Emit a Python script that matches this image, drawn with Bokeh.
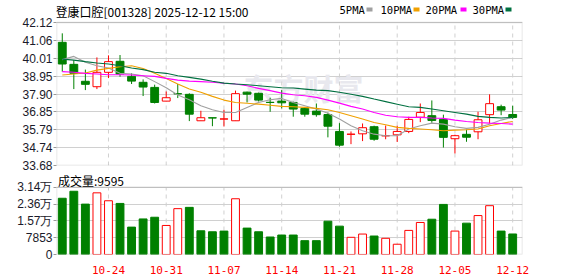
from bokeh.plotting import figure
from bokeh.layouts import column
from bokeh.models import ColumnDataSource, FixedTicker, Label, BoxAnnotation, Range1d, PrintfTickFormatter
from bokeh.embed import file_html
from bokeh.resources import INLINE

stock_title = "登康口腔[001328] 2025-12-12 15:00"

dates = ["10-20", "10-21", "10-22", "10-23", "10-24", "10-27", "10-28", "10-29", "10-30", "10-31",
         "11-03", "11-04", "11-05", "11-06", "11-07", "11-10", "11-11", "11-12", "11-13", "11-14",
         "11-17", "11-18", "11-19", "11-20", "11-21", "11-24", "11-25", "11-26", "11-27", "11-28",
         "12-01", "12-02", "12-03", "12-04", "12-05", "12-08", "12-09", "12-10", "12-11", "12-12"]

open_ = [40.95, 39.65, 38.65, 38.33, 39.18, 39.83, 38.94, 38.59, 38.29, 37.48,
         37.92, 37.88, 36.32, 36.50, 36.42, 36.32, 38.01, 37.94, 37.41, 37.48,
         37.40, 37.05, 36.89, 36.69, 35.69, 35.52, 35.55, 35.97, 35.43, 35.49,
         35.69, 36.53, 36.62, 36.40, 35.26, 35.52, 35.67, 36.68, 37.15, 36.69]
high = [41.48, 39.90, 39.34, 40.06, 40.18, 40.20, 39.12, 38.76, 38.45, 38.05,
        38.49, 37.94, 36.91, 36.50, 36.97, 38.10, 38.04, 37.98, 37.68, 38.13,
        37.45, 37.09, 37.34, 36.81, 36.18, 35.69, 36.16, 36.03, 36.04, 36.03,
        36.56, 37.34, 37.52, 36.68, 35.50, 35.79, 36.85, 37.88, 37.27, 37.21]
low = [39.22, 38.19, 38.13, 38.19, 38.84, 38.92, 38.49, 37.78, 37.34, 37.48,
       37.66, 36.30, 36.32, 36.00, 35.98, 36.32, 37.40, 37.46, 36.85, 37.05,
       36.56, 36.56, 36.56, 35.34, 34.79, 34.94, 35.12, 35.14, 35.23, 35.07,
       35.59, 36.24, 36.20, 34.74, 34.39, 35.08, 35.23, 36.16, 36.65, 36.42]
close = [39.67, 39.12, 38.47, 39.18, 39.81, 39.08, 38.66, 38.31, 37.40, 37.68,
         37.91, 36.71, 36.50, 36.48, 36.43, 37.92, 37.89, 37.54, 37.40, 37.38,
         37.01, 36.71, 36.68, 36.00, 34.88, 35.53, 35.91, 35.23, 35.44, 35.69,
         36.40, 36.81, 36.34, 35.34, 35.44, 35.35, 36.38, 37.33, 36.95, 36.52]

ma5 = [39.93, 40.12, 39.77, 39.57, 39.43, 39.12, 39.08, 38.98, 38.63, 38.27,
       37.84, 37.56, 37.21, 36.97, 36.81, 36.81, 37.11, 37.40, 37.56, 37.64,
       37.40, 37.21, 37.01, 36.77, 36.42, 36.03, 35.73, 35.53, 35.44, 35.44,
       35.83, 36.03, 36.18, 36.12, 35.97, 35.87, 35.93, 36.12, 36.36, 36.52]
ma10 = [39.02, 39.08, 39.14, 39.31, 39.41, 39.51, 39.57, 39.41, 39.12, 38.82,
        38.49, 38.19, 38.00, 37.76, 37.54, 37.40, 37.35, 37.30, 37.24, 37.17,
        37.15, 37.11, 37.05, 36.97, 36.81, 36.62, 36.42, 36.22, 36.09, 35.93,
        35.87, 35.83, 35.79, 35.73, 35.77, 35.79, 35.83, 36.03, 36.16, 36.28]
ma20 = [39.22, 39.18, 39.12, 39.08, 39.04, 39.04, 39.02, 38.98, 38.94, 38.82,
        38.72, 38.66, 38.63, 38.59, 38.53, 38.49, 38.39, 38.23, 38.10, 37.95,
        37.86, 37.80, 37.70, 37.54, 37.36, 37.17, 37.01, 36.81, 36.65, 36.56,
        36.52, 36.52, 36.48, 36.46, 36.36, 36.28, 36.22, 36.18, 36.16, 36.12]
ma30 = [39.96, 39.90, 39.81, 39.73, 39.67, 39.57, 39.43, 39.34, 39.18, 39.12,
        38.98, 38.88, 38.78, 38.65, 38.54, 38.49, 38.45, 38.39, 38.33, 38.27,
        38.25, 38.19, 38.13, 38.10, 38.00, 37.89, 37.76, 37.60, 37.45, 37.30,
        37.15, 37.11, 37.01, 36.91, 36.81, 36.71, 36.58, 36.52, 36.48, 36.52]

volume = [26300, 29570, 23560, 28830, 25130, 23880, 12800, 16630, 17420, 13580,
          21440, 22040, 11090, 10630, 10950, 26060, 12340, 10630, 8180, 9100,
          9100, 6470, 6470, 15570, 13260, 8040, 9560, 8640, 7580, 4800,
          11270, 14970, 16490, 23420, 10950, 14650, 18200, 22820, 10950, 9595]

price_ticks = [33.68, 34.74, 35.79, 36.85, 37.90, 38.95, 40.01, 41.06, 42.12]
vol_ticks = [0, 7853, 15706, 23559, 31412]
vol_tick_labels = ["0", "7853", "1.57万", "2.36万", "3.14万"]
date_ticks = ["10-24", "10-31", "11-07", "11-14", "11-21", "11-28", "12-05", "12-12"]
ma_names = ["5PMA", "10PMA", "20PMA", "30PMA"]

UP = "#ff0000"
DOWN = "#008000"
MA_COLORS = ["#a0a0a0", "#f0a000", "#ff00ff", "#007040"]
FRAME = "#999999"
GRID = "#d0d0d0"

n = len(dates)
xs = list(range(n))
ccolor = [UP if c >= o else DOWN for o, c in zip(open_, close)]
cfill = ["white" if c >= o else DOWN for o, c in zip(open_, close)]
vcolor = [ccolor[0]] + [UP if close[i] > close[i - 1] else DOWN for i in range(1, n)]
vfill = [cfill[0]] + ["white" if close[i] > close[i - 1] else DOWN for i in range(1, n)]
btop = [max(o, c) for o, c in zip(open_, close)]
bbot = [min(o, c) for o, c in zip(open_, close)]

src = ColumnDataSource(dict(x=xs, high=high, low=low, btop=btop, bbot=bbot,
                            ccolor=ccolor, cfill=cfill, vol=volume, vcolor=vcolor, vfill=vfill))

tick_pos = [dates.index(d) for d in date_ticks]
xr = Range1d(-0.5, n - 0.15)

# pixel layout of the page
P_FRAME_TOP, P_FRAME_BOT, P_CANVAS = 22, 165, 172      # price panel (header band above frame)
V_FRAME_TOP, V_FRAME_BOT, V_CANVAS = 187, 255, 104     # volume panel

p_lo, p_hi = price_ticks[0], price_ticks[-1]
p_top = p_hi + (p_hi - p_lo) * P_FRAME_TOP / (P_FRAME_BOT - P_FRAME_TOP)

def style_yaxis(fig):
    for ax in fig.yaxis:
        ax.axis_line_color = None
        ax.major_tick_line_color = FRAME
        ax.major_tick_out = 3
        ax.major_tick_in = 0
        ax.minor_tick_line_color = None
        ax.major_label_standoff = 1
        ax.major_label_text_font = "Liberation Sans"
        ax.major_label_text_font_size = "12px"
        ax.major_label_text_color = "#1a1a2a"

# ---------- price panel ----------
p = figure(width=578, height=P_CANVAS, x_range=xr, y_range=Range1d(p_lo, p_top),
           output_backend="svg", toolbar_location=None,
           min_border_left=56, min_border_right=56, min_border_top=0,
           min_border_bottom=P_CANVAS - P_FRAME_BOT,
           background_fill_color="white", border_fill_color="white",
           outline_line_color=None)
p.xaxis.visible = False
p.xgrid.grid_line_color = None
p.yaxis.ticker = FixedTicker(ticks=price_ticks)
p.yaxis.formatter = PrintfTickFormatter(format="%.2f")
p.ygrid.grid_line_color = GRID
style_yaxis(p)

wm = Label(x=187, y=79, x_units="screen", y_units="screen", text="东方财富",
           text_font="Noto Sans CJK SC", text_font_size="30px", text_font_style="bold",
           text_color="#e8e8ee", text_baseline="middle", level="underlay")
p.add_layout(wm)

k = len(tick_pos)
p.segment(x0=tick_pos, y0=[p_lo] * k, x1=tick_pos, y1=[p_hi] * k,
          line_color=GRID, line_dash="4 4", line_width=1)
p.segment(x0="x", y0="high", x1="x", y1="low", line_color="ccolor", line_width=1, source=src)
p.vbar(x="x", width=0.68, top="btop", bottom="bbot", fill_color="cfill", line_color="ccolor",
       line_width=1, source=src)
for series, col in zip([ma5, ma10, ma20, ma30], MA_COLORS):
    p.line(xs, series, line_color=col, line_width=1.1)

p.add_layout(BoxAnnotation(bottom=p_lo, top=p_hi, fill_color=None, fill_alpha=0,
                           line_color=FRAME, line_width=1.5))

hdr_h = P_FRAME_BOT  # frame height incl. header band, in px
p.add_layout(Label(x=-1, y=hdr_h - 10.5, x_units="screen", y_units="screen", text=stock_title,
                   text_font="Noto Sans CJK SC", text_font_size="12px", text_color="#000000",
                   text_baseline="middle"))
leg_x = [283, 324, 369, 416]
box_x = [310, 357, 404, 449]
for name, col, lx, bx in zip(ma_names, MA_COLORS, leg_x, box_x):
    p.add_layout(Label(x=lx, y=hdr_h - 9, x_units="screen", y_units="screen", text=name,
                       text_font="DejaVu Sans Mono", text_font_size="10.5px", text_color="#000000",
                       text_baseline="middle"))
    p.add_layout(BoxAnnotation(left=bx, right=bx + 6, bottom=hdr_h - 11, top=hdr_h - 7,
                               left_units="screen", right_units="screen",
                               bottom_units="screen", top_units="screen",
                               fill_color=col, fill_alpha=1.0, line_color=None))

# ---------- volume panel ----------
v_page_top = P_CANVAS
v_lo, v_hi = vol_ticks[0], vol_ticks[-1]
v_top = v_hi * (V_FRAME_BOT - v_page_top) / (V_FRAME_BOT - V_FRAME_TOP)
v = figure(width=578, height=V_CANVAS, x_range=xr, y_range=Range1d(v_lo, v_top),
           output_backend="svg", toolbar_location=None,
           min_border_left=56, min_border_right=56, min_border_top=0,
           min_border_bottom=V_CANVAS - (V_FRAME_BOT - v_page_top),
           background_fill_color="white", border_fill_color="white",
           outline_line_color=None)
v.xaxis.ticker = FixedTicker(ticks=tick_pos)
v.xaxis.major_label_overrides = {pos: lab for pos, lab in zip(tick_pos, date_ticks)}
v.xaxis.axis_line_color = None
v.xaxis.major_tick_line_color = None
v.xaxis.minor_tick_line_color = None
v.xaxis.major_label_standoff = 5
v.xaxis.major_label_text_font = "DejaVu Sans Mono"
v.xaxis.major_label_text_font_size = "11px"
v.xaxis.major_label_text_color = "#ff0000"
v.xgrid.grid_line_color = None
v.yaxis.ticker = FixedTicker(ticks=vol_ticks)
v.yaxis.major_label_overrides = {t: lab for t, lab in zip(vol_ticks, vol_tick_labels)}
v.ygrid.grid_line_color = GRID
style_yaxis(v)

v.segment(x0=tick_pos, y0=[v_lo] * k, x1=tick_pos, y1=[v_hi] * k,
          line_color=GRID, line_dash="4 4", line_width=1)
v.vbar(x="x", width=0.68, top="vol", bottom=0, fill_color="vfill", line_color="vcolor",
       line_width=1, source=src)
v.add_layout(BoxAnnotation(bottom=v_lo, top=v_hi, fill_color=None, fill_alpha=0,
                           line_color=FRAME, line_width=1.5))
v.add_layout(Label(x=1.5, y=V_FRAME_BOT - 181, x_units="screen", y_units="screen",
                   text="成交量:" + str(volume[-1]),
                   text_font="Noto Sans CJK SC", text_font_size="12px", text_color="#000000",
                   text_baseline="middle"))

layout = column(p, v, spacing=0)
open("out.html", "w").write(file_html(layout, INLINE))
